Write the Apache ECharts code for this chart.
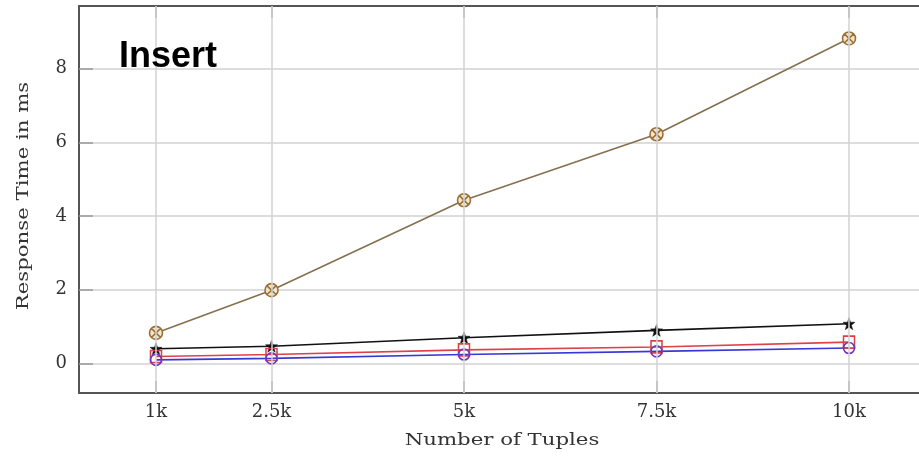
<!DOCTYPE html>
<html>
<head>
<meta charset="utf-8">
<script src="https://cdn.jsdelivr.net/npm/echarts@6/dist/echarts.min.js"></script>
<style>
html,body{margin:0;padding:0;background:#fff;}
#chart{width:919px;height:457px;}
</style>
</head>
<body>
<div id="chart"></div>
<script>
// ---- data ----
const tupleCounts = [1000, 2500, 5000, 7500, 10000];
const xTickValues = [1000, 2500, 5000, 7500, 10000];
const xTickLabels = ['1k', '2.5k', '5k', '7.5k', '10k'];
const yTickValues = [0, 2, 4, 6, 8];
const crossCircleSeries = [0.83, 1.99, 4.43, 6.22, 8.82];
const starSeries = [0.40, 0.47, 0.70, 0.90, 1.08];
const squareSeries = [0.19, 0.245, 0.37, 0.45, 0.58];
const circleSeries = [0.10, 0.14, 0.245, 0.33, 0.42];
const chartTitle = 'Insert';
const xAxisTitle = 'Number of Tuples';
const yAxisTitle = 'Response Time in ms';

const pair = vals => tupleCounts.map((x, i) => [x, vals[i]]);

const otimesPath = 'path://M10,0A10,10,0,1,1,-10,0A10,10,0,1,1,10,0Z M-7.07,-7.07L7.07,7.07 M-7.07,7.07L7.07,-7.07';
const starPath = 'path://M0,-10L2.35,-3.24L9.51,-3.09L3.8,1.24L5.88,8.09L0,4L-5.88,8.09L-3.8,1.24L-9.51,-3.09L-2.35,-3.24Z';

const serif = 'DejaVu Serif';
const frame = {color: '#555555', width: 2};
const X_MIN = 0, X_MAX = 10909;
const chart = echarts.init(document.getElementById('chart'), null, {renderer: 'canvas'});

chart.setOption({
  animation: false,
  backgroundColor: '#ffffff',
  grid: {left: 79, top: 6, right: 0, bottom: 64, show: false},
  xAxis: [{
    type: 'value', min: X_MIN, max: X_MAX, position: 'bottom',
    axisLine: {show: true, onZero: false, lineStyle: frame},
    splitLine: {show: false},
    axisTick: {customValues: xTickValues, inside: true, length: 12, lineStyle: {color: '#888', width: 1.5}},
    axisLabel: {
      customValues: xTickValues,
      formatter: v => xTickLabels[xTickValues.indexOf(v)],
      fontFamily: serif, fontSize: 18, color: '#333', margin: 10
    }
  }, {
    type: 'value', min: X_MIN, max: X_MAX, position: 'top',
    axisLine: {show: true, onZero: false, lineStyle: frame},
    splitLine: {show: false},
    axisTick: {customValues: xTickValues, inside: true, length: 12, lineStyle: {color: '#888', width: 1.5}},
    axisLabel: {show: false}
  }],
  yAxis: {
    type: 'value', min: -0.8, max: 9.7,
    axisLine: {show: true, onZero: false, lineStyle: frame},
    splitLine: {show: true, lineStyle: {color: '#d2d2d2', width: 1.5}},
    axisTick: {customValues: yTickValues, inside: true, length: 14, lineStyle: {color: '#999', width: 1.5}},
    axisLabel: {
      customValues: yTickValues,
      fontFamily: serif, fontSize: 18, color: '#333', margin: 12
    }
  },
  graphic: [
    {type: 'text', x: 119, y: 57, z: 100,
     style: {text: chartTitle, font: 'bold 36px "Liberation Sans", Arial, sans-serif', fill: '#000', textVerticalAlign: 'middle'}},
    {type: 'text', x: 502, y: 441, scaleX: 1.25, z: 100,
     style: {text: xAxisTitle, font: '17px "DejaVu Serif", serif', fill: '#333', textAlign: 'center', textVerticalAlign: 'middle'}},
    {type: 'text', x: 24, y: 196, rotation: Math.PI / 2, scaleX: 1.25, z: 100,
     style: {text: yAxisTitle, font: '17px "DejaVu Serif", serif', fill: '#333', textAlign: 'center', textVerticalAlign: 'middle'}}
  ],
  series: [
    {
      type: 'line', data: [], z: 1, silent: true,
      markLine: {
        silent: true, symbol: 'none', label: {show: false},
        lineStyle: {color: '#d2d2d2', width: 1.5, type: 'solid'},
        data: xTickValues.map(v => ({xAxis: v}))
      }
    },
    {
      type: 'line', data: pair(crossCircleSeries), z: 3,
      symbol: otimesPath, symbolSize: 13,
      lineStyle: {color: '#85704f', width: 1.6},
      itemStyle: {color: '#f3e6cc', borderColor: '#9a7038', borderWidth: 1.6}
    },
    {
      type: 'line', data: pair(starSeries), z: 3,
      symbol: starPath, symbolSize: 12,
      lineStyle: {color: '#111', width: 1.6},
      itemStyle: {color: '#111', borderColor: '#111', borderWidth: 0.5}
    },
    {
      type: 'line', data: pair(squareSeries), z: 3,
      symbol: 'rect', symbolSize: [11, 12],
      lineStyle: {color: '#e0404a', width: 1.6},
      itemStyle: {color: 'rgba(255,255,255,0)', borderColor: '#d8404a', borderWidth: 1.6}
    },
    {
      type: 'line', data: pair(circleSeries), z: 3,
      symbol: 'circle', symbolSize: 11,
      lineStyle: {color: '#3838d8', width: 1.6},
      itemStyle: {color: 'rgba(255,255,255,0)', borderColor: '#6a38c0', borderWidth: 1.6}
    }
  ]
});
</script>
</body>
</html>
